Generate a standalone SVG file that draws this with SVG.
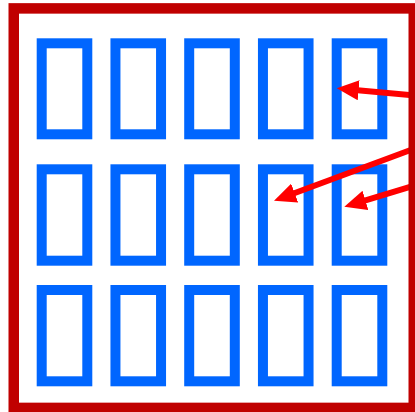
<svg xmlns="http://www.w3.org/2000/svg" width="415" height="412" viewBox="0 0 415 412">
<style>
.cell{fill:none;stroke:#0066FF;stroke-width:10}
.arrow{fill:none;stroke:#FF0000;stroke-width:6;marker-end:url(#head)}
.frame{fill:none;stroke:#C00000;stroke-width:10.5}
</style>
<defs>
<marker id="head" markerUnits="userSpaceOnUse" viewBox="0 0 22 20" markerWidth="22" markerHeight="20" refX="12" refY="10" orient="auto">
<path d="M0,0 L22,10 L0,20 z" fill="#FF0000"/>
</marker>
</defs>
<rect width="415" height="412" fill="#FFFFFF"/>
<g id="r1c1"><rect class="cell" x="41.7" y="43.3" width="45.6" height="91"/></g>
<g id="r1c2"><rect class="cell" x="115.45" y="43.3" width="45.6" height="91"/></g>
<g id="r1c3"><rect class="cell" x="189.2" y="43.3" width="45.6" height="91"/></g>
<g id="r1c4"><rect class="cell" x="262.95" y="43.3" width="45.6" height="91"/></g>
<g id="r1c5"><rect class="cell" x="336.7" y="43.3" width="45.6" height="91"/></g>
<g id="r2c1"><rect class="cell" x="41.7" y="169.3" width="45.6" height="91.4"/></g>
<g id="r2c2"><rect class="cell" x="115.45" y="169.3" width="45.6" height="91.4"/></g>
<g id="r2c3"><rect class="cell" x="189.2" y="169.3" width="45.6" height="91.4"/></g>
<g id="r2c4"><rect class="cell" x="262.95" y="169.3" width="45.6" height="91.4"/></g>
<g id="r2c5"><rect class="cell" x="336.7" y="169.3" width="45.6" height="91.4"/></g>
<g id="r3c1"><rect class="cell" x="41.7" y="290" width="45.6" height="91.3"/></g>
<g id="r3c2"><rect class="cell" x="115.45" y="290" width="45.6" height="91.3"/></g>
<g id="r3c3"><rect class="cell" x="189.2" y="290" width="45.6" height="91.3"/></g>
<g id="r3c4"><rect class="cell" x="262.95" y="290" width="45.6" height="91.3"/></g>
<g id="r3c5"><rect class="cell" x="336.7" y="290" width="45.6" height="91.3"/></g>
<g id="connectors">
<line class="arrow" x1="420" y1="96" x2="346.7" y2="89.2"/>
<line class="arrow" x1="420" y1="146.5" x2="283.4" y2="197.2"/>
<line class="arrow" x1="420" y1="183.9" x2="353.9" y2="203.8"/>
</g>
<g id="frame"><rect class="frame" x="13.75" y="8.4" width="400" height="399.5"/></g>
</svg>
